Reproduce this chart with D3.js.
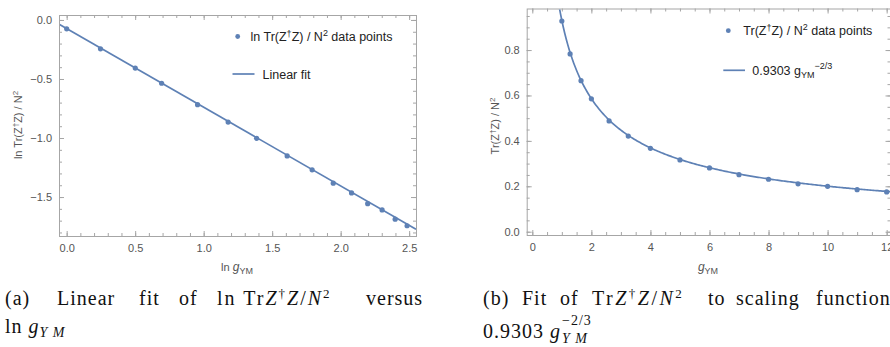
<!DOCTYPE html>
<html>
<head>
<meta charset="utf-8">
<script src="https://cdn.jsdelivr.net/npm/d3@7"></script>
<style>
  body { margin: 0; background: #fff; }
  svg { display: block; }
</style>
</head>
<body>
<div id="chart"></div>
<script>

// data (g_YM and Tr(Z^dag Z)/N^2)
var gYM  = [1, 1.28, 1.65, 2, 2.6, 3.25, 4, 5, 6, 7, 8, 9, 10, 11, 12];
var trZZ = [0.928, 0.783, 0.665, 0.585, 0.488, 0.421, 0.367, 0.316, 0.281, 0.251, 0.231, 0.211, 0.200, 0.185, 0.175];

// fit  0.9303 g^(-2/3)
var fitCoef = 0.9303;
var fitPower = -2 / 3;

// tick labels
var lnTicksX = [0, 0.5, 1.0, 1.5, 2.0, 2.5];
var lnTicksY = [0, -0.5, -1.0, -1.5];
var gTicksX  = [0, 2, 4, 6, 8, 10, 12];
var trTicksY = [0, 0.2, 0.4, 0.6, 0.8];

var blue = "#5E81B5";
var frameCol = "#a6a6a6";
var labelCol = "#555";

var svg = d3.select("#chart")
  .append("svg")
    .attr("width", 890)
    .attr("height", 347);

// text with sub/superscript pieces
function rich(sel, parts)
{
  var shift = 0;
  parts.forEach(function(p) {
    var target = p.sup ? -p.sup : (p.sub ? p.sub : 0);
    var ts = sel.append("tspan")
      .attr("dy", target - shift)
      .text(p.t);
    shift = target;
    if (p.it) ts.style("font-style", "italic");
    if (p.size) ts.style("font-size", p.size + "px");
  });
  return sel;
}

function frame(o)
{
  var x = d3.scaleLinear().domain(o.xDomain).range([o.left, o.right]);
  var y = d3.scaleLinear().domain(o.yDomain).range([o.top, o.bottom]);

  var g = svg.append("g");

  var styleAxis = function(a) {
    a.select(".domain").remove();
    a.selectAll("line").attr("stroke", frameCol).attr("stroke-width", 1);
    a.selectAll("text")
      .style("font-family", "Liberation Sans, Arial, sans-serif")
      .style("font-size", "11px")
      .attr("fill", labelCol);
  };

  // minor ticks
  g.append("g").attr("transform", "translate(0," + o.bottom + ")")
    .call(d3.axisBottom(x).tickValues(o.xMinor).tickSize(-3).tickFormat(""))
    .call(styleAxis);
  g.append("g").attr("transform", "translate(0," + o.top + ")")
    .call(d3.axisTop(x).tickValues(o.xMinor).tickSize(-3).tickFormat(""))
    .call(styleAxis);
  g.append("g").attr("transform", "translate(" + o.left + ",0)")
    .call(d3.axisLeft(y).tickValues(o.yMinor).tickSize(-3).tickFormat(""))
    .call(styleAxis);
  g.append("g").attr("transform", "translate(" + o.right + ",0)")
    .call(d3.axisRight(y).tickValues(o.yMinor).tickSize(-3).tickFormat(""))
    .call(styleAxis);

  // major ticks + labels
  g.append("g").attr("transform", "translate(0," + o.bottom + ")")
    .call(d3.axisBottom(x).tickValues(o.xTicks).tickSize(-5).tickPadding(8).tickFormat(d3.format(o.xFmt)))
    .call(styleAxis);
  g.append("g").attr("transform", "translate(0," + o.top + ")")
    .call(d3.axisTop(x).tickValues(o.xTicks).tickSize(-5).tickFormat(""))
    .call(styleAxis);
  g.append("g").attr("transform", "translate(" + o.left + ",0)")
    .call(d3.axisLeft(y).tickValues(o.yTicks).tickSize(-5).tickPadding(7).tickFormat(d3.format(o.yFmt)))
    .call(styleAxis);
  g.append("g").attr("transform", "translate(" + o.right + ",0)")
    .call(d3.axisRight(y).tickValues(o.yTicks).tickSize(-5).tickFormat(""))
    .call(styleAxis);

  g.append("rect")
    .attr("x", o.left + 0.5)
    .attr("y", o.top + 0.5)
    .attr("width", o.right - o.left)
    .attr("height", o.bottom - o.top)
    .attr("fill", "none")
    .attr("stroke", frameCol);

  svg.append("clipPath").attr("id", o.id)
    .append("rect")
    .attr("x", o.left + 1).attr("y", o.top + 1)
    .attr("width", o.right - o.left - 1).attr("height", o.bottom - o.top - 1);

  return {x: x, y: y};
}

function sansText(x, y, size, col)
{
  return svg.append("text")
    .attr("x", x)
    .attr("y", y)
    .style("font-family", "Liberation Sans, Arial, sans-serif")
    .style("font-size", size + "px")
    .attr("fill", col);
}

// ---------------- panel (a) ----------------
var lnPts = gYM.map(function(d, i) { return {x: Math.log(d), y: Math.log(trZZ[i])}; });

var sa = frame({
  id: "clipA", left: 59, right: 416, top: 15, bottom: 236,
  xDomain: [-0.056, 2.55], yDomain: [0.042, -1.83],
  xTicks: lnTicksX, yTicks: lnTicksY,
  xMinor: d3.range(0, 2.55, 0.1), yMinor: d3.range(0, -1.83, -0.1),
  xFmt: ".1f", yFmt: ".1f"
});

var fitA = sa.x.domain().map(function(d) { return {x: d, y: Math.log(fitCoef) + fitPower * d}; });

svg.append("path")
  .datum(fitA)
  .attr("clip-path", "url(#clipA)")
  .attr("fill", "none")
  .attr("stroke", blue)
  .attr("stroke-width", 1.7)
  .attr("d", d3.line().x(function(d) { return sa.x(d.x); }).y(function(d) { return sa.y(d.y); }));

svg.append("g")
  .selectAll("circle")
  .data(lnPts)
  .enter()
  .append("circle")
    .attr("cx", function(d) { return sa.x(d.x); })
    .attr("cy", function(d) { return sa.y(d.y); })
    .attr("r", 2.6)
    .attr("fill", blue);

// legend (a)
svg.append("circle").attr("cx", 237.7).attr("cy", 36.5).attr("r", 2.4).attr("fill", blue);
rich(sansText(250.5, 41, 12.5, "#222"), [
  {t: "ln Tr(Z"}, {t: "\u2020", sup: 4, size: 9}, {t: "Z) / N"}, {t: "2", sup: 5, size: 9}, {t: " data points"}
]);
svg.append("line").attr("x1", 232.5).attr("x2", 254.5).attr("y1", 74).attr("y2", 74)
  .attr("stroke", blue).attr("stroke-width", 1.7);
sansText(262.5, 78.5, 12.5, "#222").text("Linear fit");

// axis labels (a)
rich(sansText(237, 271, 11, labelCol).attr("text-anchor", "middle"), [
  {t: "ln "}, {t: "g", it: true, size: 12}, {t: "YM", sub: 3, size: 9}
]);
rich(sansText(0, 0, 11, labelCol)
  .attr("text-anchor", "middle")
  .attr("transform", "translate(22,125) rotate(-90)"), [
  {t: "ln Tr(Z"}, {t: "\u2020", sup: 4, size: 8}, {t: "Z) / N"}, {t: "2", sup: 4, size: 8}
]);

// ---------------- panel (b) ----------------
var trPts = gYM.map(function(d, i) { return {x: d, y: trZZ[i]}; });

var sb = frame({
  id: "clipB", left: 526.7, right: 890.5, top: 8.5, bottom: 235,
  xDomain: [-0.19, 12.13], yDomain: [0.983, -0.0145],
  xTicks: gTicksX, yTicks: trTicksY,
  xMinor: d3.range(0, 12.13, 0.5), yMinor: d3.range(0, 0.98, 0.05),
  xFmt: "d", yFmt: ".1f"
});

var fitB = d3.range(0.85, 12.2, 0.05).map(function(d) { return {x: d, y: fitCoef * Math.pow(d, fitPower)}; });

svg.append("path")
  .datum(fitB)
  .attr("clip-path", "url(#clipB)")
  .attr("fill", "none")
  .attr("stroke", blue)
  .attr("stroke-width", 1.7)
  .attr("d", d3.line().x(function(d) { return sb.x(d.x); }).y(function(d) { return sb.y(d.y); }));

svg.append("g")
  .selectAll("circle")
  .data(trPts)
  .enter()
  .append("circle")
    .attr("cx", function(d) { return sb.x(d.x); })
    .attr("cy", function(d) { return sb.y(d.y); })
    .attr("r", 2.6)
    .attr("fill", blue);

// legend (b)
svg.append("circle").attr("cx", 728.3).attr("cy", 30.7).attr("r", 2.4).attr("fill", blue);
rich(sansText(743.3, 35, 12.5, "#222"), [
  {t: "Tr(Z"}, {t: "\u2020", sup: 4, size: 9}, {t: "Z) / N"}, {t: "2", sup: 5, size: 9}, {t: " data points"}
]);
svg.append("line").attr("x1", 723.3).attr("x2", 745).attr("y1", 70.3).attr("y2", 70.3)
  .attr("stroke", blue).attr("stroke-width", 1.7);
rich(sansText(752.3, 74.5, 12.5, "#222"), [
  {t: "0.9303 g"}, {t: "YM", sub: 3, size: 9}, {t: "\u22122/3", sup: 6, size: 9}
]);

// axis labels (b)
rich(sansText(708, 271, 11, labelCol).attr("text-anchor", "middle"), [
  {t: "g", it: true, size: 12}, {t: "YM", sub: 3, size: 9}
]);
rich(sansText(0, 0, 11, labelCol)
  .attr("text-anchor", "middle")
  .attr("transform", "translate(499,126) rotate(-90)"), [
  {t: "Tr(Z"}, {t: "\u2020", sup: 4, size: 8}, {t: "Z) / N"}, {t: "2", sup: 4, size: 8}
]);

// ---------------- captions ----------------
function serif(x, y)
{
  return svg.append("text")
    .attr("x", x)
    .attr("y", y)
    .style("font-family", "Liberation Serif, Times New Roman, serif")
    .style("font-size", "20px")
    .style("letter-spacing", "1px")
    .attr("fill", "#111");
}

var capA = [["(a)", 5], ["Linear", 57], ["fit", 139], ["of", 179], ["versus", 366]];
capA.forEach(function(w) { serif(w[1], 305).text(w[0]); });
rich(serif(217, 305).style("letter-spacing", "2px"), [
  {t: "ln Tr"}, {t: "Z", it: true}, {t: "\u2020", sup: 7, size: 13}, {t: "Z", it: true}, {t: "/"}, {t: "N", it: true}, {t: "2", sup: 7, size: 13}
]);
rich(serif(5, 333), [
  {t: "ln "}, {t: "g", it: true}, {t: "Y M", it: true, sub: 4, size: 14}
]);

var capB = [["(b)", 483], ["Fit", 522], ["of", 560], ["to", 708], ["scaling", 736], ["function", 816]];
capB.forEach(function(w) { serif(w[1], 305).text(w[0]); });
rich(serif(592, 305).style("letter-spacing", "2.5px"), [
  {t: "Tr"}, {t: "Z", it: true}, {t: "\u2020", sup: 7, size: 13}, {t: "Z", it: true}, {t: "/"}, {t: "N", it: true}, {t: "2", sup: 7, size: 13}
]);
var base = rich(serif(483, 338), [{t: "0.9303 "}, {t: "g", it: true}]);
var gEnd = 483 + base.node().getComputedTextLength() + 1;
serif(gEnd, 325).style("font-size", "14px").text("\u22122/3");
serif(gEnd, 343).style("font-size", "14px").style("font-style", "italic").text("Y M");

</script>
</body>
</html>
